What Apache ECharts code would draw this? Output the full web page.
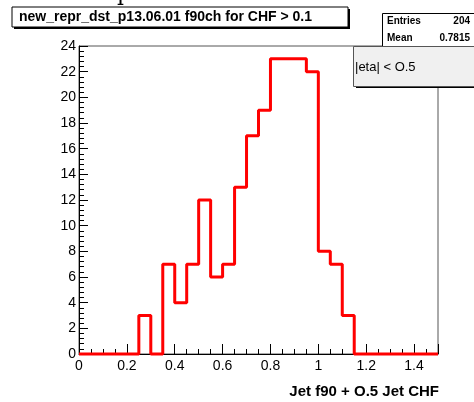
<!DOCTYPE html>
<html>
<head>
<meta charset="utf-8">
<script src="https://cdn.jsdelivr.net/npm/echarts@6/dist/echarts.min.js"></script>
<style>
  html, body { margin: 0; padding: 0; background: #fff; }
  #chart { width: 474px; height: 402px; }
</style>
</head>
<body>
<div id="chart"></div>
<script>
// bin low edges (width 0.05) and counts of the histogram
const binLow = [0, 0.05, 0.1, 0.15, 0.2, 0.25, 0.3, 0.35, 0.4, 0.45,
  0.5, 0.55, 0.6, 0.65, 0.7, 0.75, 0.8, 0.85, 0.9, 0.95,
  1.0, 1.05, 1.1, 1.15, 1.2, 1.25, 1.3, 1.35, 1.4, 1.45];
const counts = [0, 0, 0, 0, 0, 3, 0, 7, 4, 7,
  12, 6, 7, 13, 17, 19, 23, 23, 23, 22,
  8, 7, 3, 0, 0, 0, 0, 0, 0, 0];
const xUpper = 1.5;

const titleText = "new_repr_dst_p13.06.01 f90ch for CHF > 0.1";
const xName = "Jet f90 + O.5 Jet CHF";
const statNames = ["Entries", "Mean"];
const statValues = ["204", "0.7815"];
const legendText = "|eta| < O.5";

const font = "Liberation Sans";

// step outline: each point is a bin's low edge, last point closes the range
const stepData = binLow.map((x, i) => [x, counts[i]]);
stepData.push([xUpper, counts[counts.length - 1]]);

const chart = echarts.init(document.getElementById("chart"));

const option = {
  animation: false,
  backgroundColor: "#fff",
  grid: {
    left: 79,
    top: 46,
    width: 359,
    height: 308,
    show: true,
    borderColor: "#555",
    borderWidth: 1,
    backgroundColor: "transparent"
  },
  xAxis: {
    type: "value",
    min: 0,
    max: xUpper,
    interval: 0.2,
    axisLine: { show: true, lineStyle: { color: "#000", width: 1 } },
    axisTick: { show: true, inside: true, length: 10, lineStyle: { color: "#000" } },
    minorTick: { show: true, splitNumber: 4, length: 5, lineStyle: { color: "#000" } },
    splitLine: { show: false },
    axisLabel: {
      color: "#000",
      fontFamily: font,
      fontSize: 14,
      margin: 5,
      showMaxLabel: false,
      formatter: v => String(+v.toFixed(2))
    }
  },
  yAxis: {
    type: "value",
    min: 0,
    max: 24,
    interval: 2,
    axisLine: { show: true, lineStyle: { color: "#000", width: 1 } },
    axisTick: { show: true, inside: true, length: 9, lineStyle: { color: "#000" } },
    minorTick: { show: true, splitNumber: 5, length: 5, lineStyle: { color: "#000" } },
    splitLine: { show: false },
    axisLabel: {
      color: "#000",
      fontFamily: font,
      fontSize: 14,
      margin: 3
    }
  },
  series: [
    {
      type: "line",
      step: "end",
      data: stepData,
      symbol: "none",
      clip: false,
      lineStyle: { color: "#ff0000", width: 3 },
      z: 3
    }
  ],
  graphic: [
    // cut-off glyph at the very top
    {
      type: "text", left: 117, top: -17, z: 10,
      style: { text: "p", font: "22px 'DejaVu Serif'", fill: "#000" }
    },
    // title box with shadow
    { type: "rect", shape: { x: 14, y: 9, width: 336, height: 20 }, style: { fill: "#000" }, z: 10 },
    { type: "rect", shape: { x: 12, y: 7, width: 336, height: 20 }, style: { fill: "#fff", stroke: "#000", lineWidth: 1 }, z: 11 },
    {
      type: "text", x: 19, y: 17, z: 12,
      style: { text: titleText, font: "bold 14px '" + font + "'", fill: "#000", verticalAlign: "middle" }
    },
    // stats box
    { type: "rect", shape: { x: 382.5, y: 13.5, width: 100, height: 40 }, style: { fill: "#fff", stroke: "#000", lineWidth: 1 }, z: 10 },
    {
      type: "text", x: 387, y: 21, z: 12,
      style: { text: statNames[0], font: "bold 10px '" + font + "'", fill: "#000", verticalAlign: "middle" }
    },
    {
      type: "text", x: 470, y: 21, z: 12,
      style: { text: statValues[0], font: "bold 10px '" + font + "'", fill: "#000", align: "right", verticalAlign: "middle" }
    },
    {
      type: "text", x: 387, y: 38, z: 12,
      style: { text: statNames[1], font: "bold 10px '" + font + "'", fill: "#000", verticalAlign: "middle" }
    },
    {
      type: "text", x: 470, y: 38, z: 12,
      style: { text: statValues[1], font: "bold 10px '" + font + "'", fill: "#000", align: "right", verticalAlign: "middle" }
    },
    // legend box with shadow
    { type: "rect", shape: { x: 356, y: 49, width: 130, height: 39 }, style: { fill: "#000" }, z: 13 },
    { type: "rect", shape: { x: 353.5, y: 46.5, width: 130, height: 40 }, style: { fill: "#f0f0f0", stroke: "#555", lineWidth: 1 }, z: 14 },
    {
      type: "text", x: 355, y: 67, z: 15,
      style: { text: legendText, font: "13px '" + font + "'", fill: "#000", verticalAlign: "middle" }
    },
    // x axis title
    {
      type: "text", x: 439, y: 392, z: 12,
      style: { text: xName, font: "bold 15px '" + font + "'", fill: "#000", align: "right", verticalAlign: "middle" }
    }
  ]
};

chart.setOption(option);
</script>
</body>
</html>
